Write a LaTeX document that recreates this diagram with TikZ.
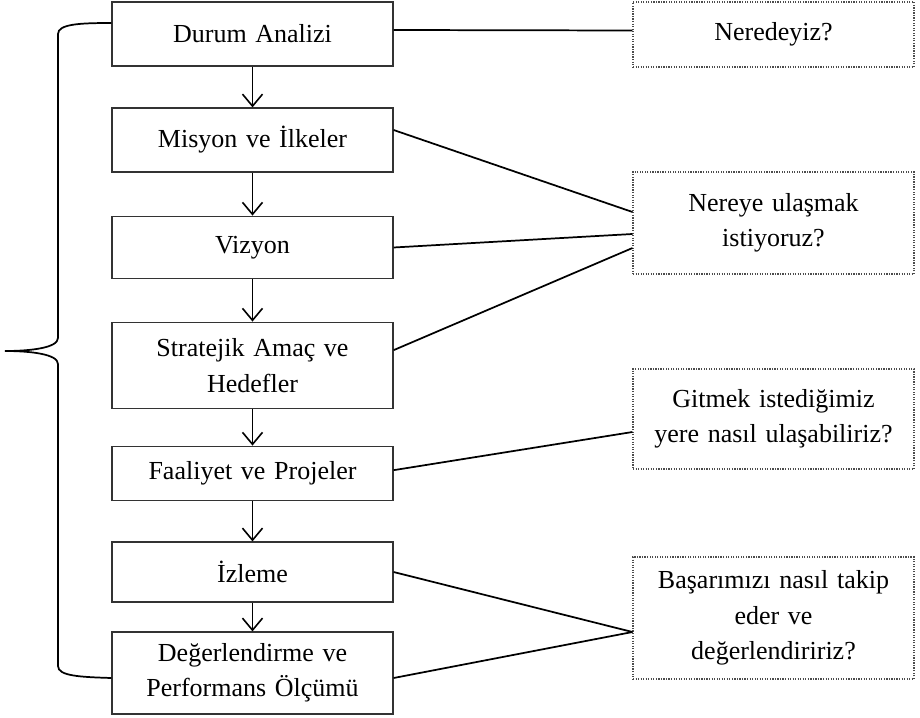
\documentclass[tikz,border=0pt]{standalone}
\usepackage{fontspec}
\setmainfont{Liberation Serif}
\usetikzlibrary{arrows.meta}

\tikzset{
    adim/.style={draw=black!80, line width=0.9pt, minimum width=210.75pt, text width=200pt,
        align=center, inner sep=0pt, font=\fontsize{19.5}{26.5}\selectfont},
    soru/.style={adim, draw=black!70, densely dotted, line width=0.8pt},
    ok/.style={line width=1.2pt, -{Straight Barb[length=9pt,width=15pt,line width=1.2pt]}},
    bag/.style={line width=1.3pt}
}

\begin{document}
\begin{tikzpicture}[x=0.75pt, y=-0.75pt]
        \useasboundingbox (0,0) rectangle (920,717);

        % Draw the steps on the left
        \node[adim, minimum height=48pt] (durum) at (252.5,34) {Durum Analizi};
        \node[adim, minimum height=48pt] (misyon) at (252.5,140) {Misyon ve İlkeler};
        \node[adim, minimum height=47pt] (vizyon) at (252.5,247.5) {Vizyon};
        \node[adim, minimum height=65pt] (strateji) at (252.5,365.5) {Stratejik Amaç ve\\Hedefler};
        \node[adim, minimum height=41pt] (faaliyet) at (252.5,473.5) {Faaliyet ve Projeler};
        \node[adim, minimum height=45pt] (izleme) at (252.5,572) {İzleme};
        \node[adim, minimum height=61.5pt] (deger) at (252.5,673) {Değerlendirme ve\\Performans Ölçümü};

        % Draw the questions on the right
        \node[soru, minimum height=48.75pt] (neredeyiz) at (773.5,34.5) {Neredeyiz?};
        \node[soru, minimum height=76.5pt] (nereye) at (773.5,223) {Nereye ulaşmak\\istiyoruz?};
        \node[soru, minimum height=75pt] (gitmek) at (773.5,419) {Gitmek istediğimiz\\yere nasıl ulaşabiliriz?};
        \node[soru, minimum height=91.5pt] (basari) at (773.5,618) {Başarımızı nasıl takip\\eder ve\\değerlendiririz?};

        % Arrows between the steps
        \draw[ok] (durum) -- (misyon);
        \draw[ok] (misyon) -- (vizyon);
        \draw[ok] (vizyon) -- (strateji);
        \draw[ok] (strateji) -- (faaliyet);
        \draw[ok] (faaliyet) -- (izleme);
        \draw[ok] (izleme) -- (deger);

        % Lines to the questions
        \draw[bag] ([yshift=3pt]durum.east) -- ([yshift=3pt]neredeyiz.west);
        \draw[bag] ([yshift=7.5pt]misyon.east) -- ([yshift=8.25pt]nereye.west);
        \draw[bag] (vizyon.east) -- ([yshift=-8.25pt]nereye.west);
        \draw[bag] ([yshift=11.5pt]strateji.east) -- ([yshift=-18.75pt]nereye.west);
        \draw[bag] ([yshift=2.5pt]faaliyet.east) -- ([yshift=-9.75pt]gitmek.west);
        \draw[bag] (izleme.east) -- ([yshift=-10.5pt]basari.west);
        \draw[bag] ([yshift=-3.75pt]deger.east) -- ([yshift=-10.5pt]basari.west);

        % Brace on the left
        \draw[bag] ([yshift=8.25pt]durum.west) .. controls (80,23) and (58,24) .. (58,34)
            -- (58,338) .. controls (58,348) and (30,351) .. (5,351)
            .. controls (30,351) and (58,354) .. (58,364)
            -- (58,666) .. controls (58,676) and (80,677) .. ([yshift=-3.75pt]deger.west);
    \end{tikzpicture}
\end{document}
